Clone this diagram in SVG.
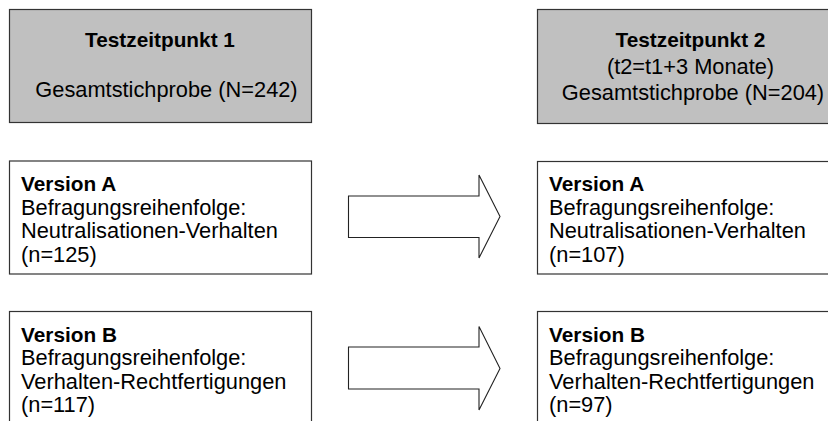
<svg xmlns="http://www.w3.org/2000/svg" width="828" height="421" viewBox="0 0 828 421">
  <style>
    .box { fill: #ffffff; stroke: #333333; stroke-width: 1.2; }
    .head { fill: #c0c0c0; stroke: #333333; stroke-width: 1.2; }
    .arrow { fill: #ffffff; stroke: #222222; stroke-width: 1.1; stroke-linejoin: miter; }
    text { font-family: "Liberation Sans", Arial, Helvetica, sans-serif; fill: #000000; }
    .b { font-weight: bold; font-size: 20.8px; }
    .r { font-size: 21.8px; }
    .c { text-anchor: middle; }
  </style>
  <rect width="828" height="421" fill="#ffffff"/>

  <!-- time point headers -->
  <g id="t1">
    <rect class="head" x="9.5" y="9.5" width="302" height="113"/>
    <text class="b c" x="160" y="46.5">Testzeitpunkt 1</text>
    <text class="r c" x="166.5" y="97">Gesamtstichprobe (N=242)</text>
  </g>
  <g id="t2">
    <rect class="head" x="537.5" y="9.5" width="310" height="114"/>
    <text class="b c" x="690.5" y="46.5">Testzeitpunkt 2</text>
    <text class="r c" x="690.5" y="73.5">(t2=t1+3 Monate)</text>
    <text class="r c" x="693" y="100">Gesamtstichprobe (N=204)</text>
  </g>

  <!-- version A -->
  <g id="a1">
    <rect class="box" x="9.5" y="161" width="302" height="113"/>
    <text class="b" x="21" y="191">Version A</text>
    <text class="r" x="21" y="214.5">Befragungsreihenfolge:</text>
    <text class="r" x="21" y="238">Neutralisationen-Verhalten</text>
    <text class="r" x="21" y="261.5">(n=125)</text>
  </g>
  <g id="a2">
    <rect class="box" x="537.5" y="161.5" width="310" height="112.5"/>
    <text class="b" x="549" y="191">Version A</text>
    <text class="r" x="549" y="214.5">Befragungsreihenfolge:</text>
    <text class="r" x="549" y="238">Neutralisationen-Verhalten</text>
    <text class="r" x="549" y="261.5">(n=107)</text>
  </g>

  <!-- version B -->
  <g id="b1">
    <rect class="box" x="9.5" y="311.5" width="302" height="120"/>
    <text class="b" x="21" y="341.5">Version B</text>
    <text class="r" x="21" y="365">Befragungsreihenfolge:</text>
    <text class="r" x="21" y="388.5">Verhalten-Rechtfertigungen</text>
    <text class="r" x="21" y="412">(n=117)</text>
  </g>
  <g id="b2">
    <rect class="box" x="537.5" y="311.5" width="310" height="120"/>
    <text class="b" x="549" y="341.5">Version B</text>
    <text class="r" x="549" y="365">Befragungsreihenfolge:</text>
    <text class="r" x="549" y="388.5">Verhalten-Rechtfertigungen</text>
    <text class="r" x="549" y="412">(n=97)</text>
  </g>

  <!-- block arrows between time points -->
  <g id="connectors">
    <polygon class="arrow" points="348.5,196 479,196 479,175 500,216.5 479,258 479,237.5 348.5,237.5"/>
    <polygon class="arrow" points="348.5,347 479,347 479,326.5 500,368.5 479,410 479,389 348.5,389"/>
  </g>
</svg>
